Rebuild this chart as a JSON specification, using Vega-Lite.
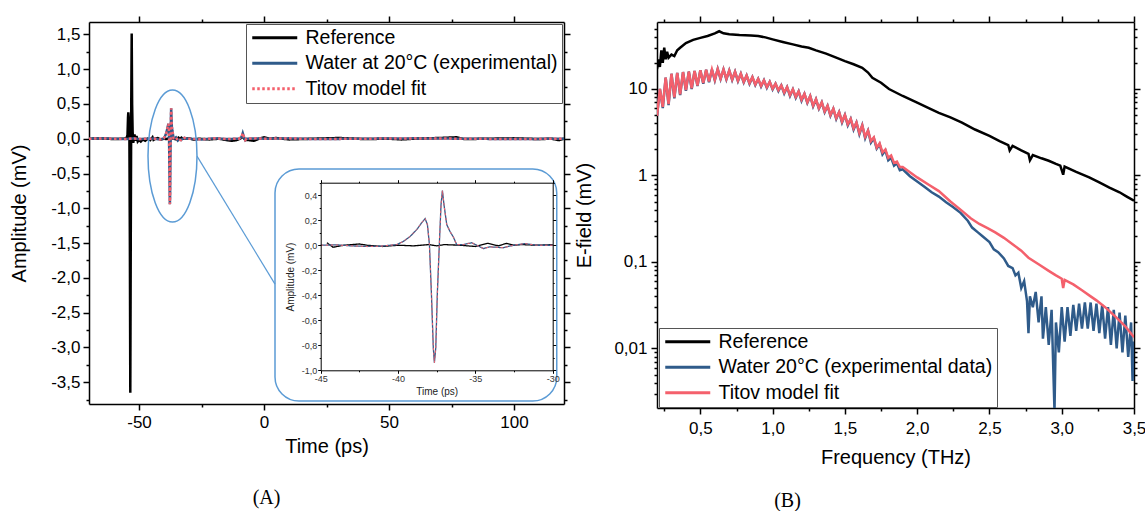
{
  "$schema": "https://vega.github.io/schema/vega-lite/v6.json",
  "background": "white",
  "padding": {"left": 9, "top": 15, "right": 0, "bottom": 0},
  "spacing": 3,
  "resolve": {"scale": {"color": "independent", "strokeDash": "independent"}},
  "config": {
    "font": "Liberation Sans",
    "view": {"stroke": null},
    "locale": {"number": {"decimal": ",", "thousands": ".", "grouping": [3], "currency": ["", " €"], "minus": "-"}},
    "axis": {"grid": false, "domainColor": "#000", "domainWidth": 1.5, "tickColor": "#000", "tickWidth": 1.5, "labelColor": "#000", "titleColor": "#000", "labelFontSize": 17, "titleFontSize": 20, "titleFontWeight": "normal", "labelFont": "Liberation Sans", "titleFont": "Liberation Sans", "labelFlush": false, "labelOverlap": false},
    "legend": {"labelFont": "Liberation Sans", "labelFontSize": 19.5, "labelColor": "#000", "labelLimit": 500, "symbolType": "M -1 0 L 5 0", "symbolStrokeWidth": 3, "symbolSize": 225, "strokeColor": "#555", "fillColor": "#ffffff", "padding": 4, "rowPadding": 4.5, "labelOffset": 36, "cornerRadius": 0}
  },
  "datasets": {
    "tRef": [
      {"t": -70, "a": 0}, {"t": -65, "a": 0.005}, {"t": -60, "a": -0.005}, {"t": -56, "a": 0}, {"t": -55, "a": 0.01},
      {"t": -54.6, "a": 0.05}, {"t": -54.4, "a": 0.3}, {"t": -54.28, "a": 0.38}, {"t": -54.1, "a": 0.3}, {"t": -53.85, "a": 0.1},
      {"t": -53.65, "a": -1.5}, {"t": -53.48, "a": -3.65}, {"t": -53.3, "a": -1.5}, {"t": -53.1, "a": 0.5}, {"t": -52.92, "a": 1.51},
      {"t": -52.75, "a": 0.5}, {"t": -52.55, "a": 0.1}, {"t": -52.3, "a": -0.06}, {"t": -51.8, "a": 0.06}, {"t": -51.4, "a": -0.03},
      {"t": -51.0, "a": 0.04}, {"t": -50.5, "a": -0.04}, {"t": -50, "a": -0.02}, {"t": -49.3, "a": -0.04}, {"t": -48.5, "a": -0.01},
      {"t": -47.5, "a": -0.03}, {"t": -46.5, "a": 0}, {"t": -45.5, "a": -0.02}, {"t": -44.6, "a": 0.02}, {"t": -44.2, "a": -0.016},
      {"t": -43.5, "a": 0}, {"t": -42.5, "a": 0.01}, {"t": -42, "a": 0}, {"t": -41, "a": -0.01}, {"t": -40, "a": 0},
      {"t": -39, "a": -0.005}, {"t": -38, "a": 0.005}, {"t": -37.5, "a": -0.005}, {"t": -37, "a": 0.005}, {"t": -36, "a": 0},
      {"t": -35, "a": -0.01}, {"t": -34.2, "a": 0.015}, {"t": -33.5, "a": -0.005}, {"t": -33, "a": 0.015}, {"t": -32.5, "a": 0},
      {"t": -32, "a": 0.005}, {"t": -31, "a": 0}, {"t": -30, "a": 0.005}, {"t": -28, "a": -0.015}, {"t": -26, "a": 0},
      {"t": -22, "a": -0.01}, {"t": -18, "a": 0}, {"t": -15, "a": -0.02}, {"t": -13, "a": -0.03}, {"t": -11, "a": -0.02},
      {"t": -9.5, "a": 0}, {"t": -8.5, "a": 0.03}, {"t": -7.5, "a": -0.02}, {"t": -6, "a": -0.02}, {"t": -4, "a": -0.03},
      {"t": -2, "a": 0}, {"t": 0, "a": 0.02}, {"t": 2, "a": 0}, {"t": 5, "a": 0.01}, {"t": 10, "a": -0.01},
      {"t": 20, "a": 0}, {"t": 30, "a": 0.01}, {"t": 40, "a": -0.005}, {"t": 50, "a": 0}, {"t": 55, "a": -0.01},
      {"t": 60, "a": 0}, {"t": 70, "a": 0.01}, {"t": 77, "a": 0.02}, {"t": 80, "a": -0.005}, {"t": 90, "a": 0},
      {"t": 100, "a": 0.005}, {"t": 110, "a": -0.005}, {"t": 115, "a": 0}, {"t": 118, "a": -0.02}, {"t": 120, "a": 0}
    ],
    "tWat": [
      {"t": -70, "a": 0}, {"t": -65, "a": 0.005}, {"t": -60, "a": 0}, {"t": -55, "a": -0.005}, {"t": -52, "a": 0.005},
      {"t": -50, "a": -0.005}, {"t": -47, "a": 0}, {"t": -45, "a": 0}, {"t": -44, "a": 0.003}, {"t": -43, "a": -0.005},
      {"t": -42, "a": -0.01}, {"t": -41.16, "a": -0.008}, {"t": -40.09, "a": 0.005}, {"t": -39.66, "a": 0.03}, {"t": -39.22, "a": 0.07},
      {"t": -38.79, "a": 0.125}, {"t": -38.47, "a": 0.18}, {"t": -38.25, "a": 0.213}, {"t": -38.1, "a": 0.165}, {"t": -37.97, "a": 0.005},
      {"t": -37.84, "a": -0.39}, {"t": -37.72, "a": -0.82}, {"t": -37.65, "a": -0.94}, {"t": -37.56, "a": -0.82}, {"t": -37.46, "a": -0.39},
      {"t": -37.33, "a": 0.005}, {"t": -37.22, "a": 0.325}, {"t": -37.13, "a": 0.437}, {"t": -37.03, "a": 0.325}, {"t": -36.85, "a": 0.165},
      {"t": -36.64, "a": 0.11}, {"t": -36.42, "a": 0.065}, {"t": -36.21, "a": 0.005}, {"t": -35.78, "a": 0.005}, {"t": -35.24, "a": 0.02},
      {"t": -34.91, "a": 0}, {"t": -34.48, "a": -0.027}, {"t": -34.05, "a": -0.013}, {"t": -33.19, "a": -0.02}, {"t": -32.54, "a": 0},
      {"t": -31.79, "a": 0.013}, {"t": -31.03, "a": 0}, {"t": -30, "a": 0}, {"t": -25, "a": -0.01}, {"t": -20, "a": 0.005},
      {"t": -15, "a": -0.005}, {"t": -10, "a": 0}, {"t": -9, "a": 0.02}, {"t": -8.5, "a": 0.08}, {"t": -8, "a": 0.02},
      {"t": -7.5, "a": -0.02}, {"t": -7, "a": 0}, {"t": -3, "a": 0.005}, {"t": 0, "a": 0}, {"t": 10, "a": 0.005},
      {"t": 20, "a": -0.005}, {"t": 40, "a": 0}, {"t": 60, "a": 0.005}, {"t": 80, "a": 0}, {"t": 100, "a": -0.005}, {"t": 120, "a": 0}
    ],
    "tTit": [
      {"t": -70, "a": 0}, {"t": -65, "a": 0.004}, {"t": -60, "a": 0}, {"t": -55, "a": -0.004}, {"t": -52, "a": 0.004},
      {"t": -50, "a": -0.004}, {"t": -47, "a": 0}, {"t": -45, "a": 0}, {"t": -44, "a": 0.002}, {"t": -43, "a": -0.005},
      {"t": -42, "a": -0.01}, {"t": -41.16, "a": -0.008}, {"t": -40.09, "a": 0.005}, {"t": -39.66, "a": 0.03}, {"t": -39.22, "a": 0.07},
      {"t": -38.79, "a": 0.125}, {"t": -38.47, "a": 0.18}, {"t": -38.25, "a": 0.213}, {"t": -38.1, "a": 0.165}, {"t": -37.97, "a": 0.005},
      {"t": -37.84, "a": -0.39}, {"t": -37.72, "a": -0.82}, {"t": -37.65, "a": -0.94}, {"t": -37.56, "a": -0.82}, {"t": -37.46, "a": -0.39},
      {"t": -37.33, "a": 0.005}, {"t": -37.22, "a": 0.325}, {"t": -37.13, "a": 0.437}, {"t": -37.03, "a": 0.325}, {"t": -36.85, "a": 0.165},
      {"t": -36.64, "a": 0.11}, {"t": -36.42, "a": 0.065}, {"t": -36.21, "a": 0.005}, {"t": -35.78, "a": 0.005}, {"t": -35.24, "a": 0.02},
      {"t": -34.91, "a": 0}, {"t": -34.48, "a": -0.027}, {"t": -34.05, "a": -0.013}, {"t": -33.19, "a": -0.02}, {"t": -32.54, "a": 0},
      {"t": -31.79, "a": 0.013}, {"t": -31.03, "a": 0}, {"t": -30, "a": 0}, {"t": -25, "a": -0.01}, {"t": -20, "a": 0.005},
      {"t": -15, "a": -0.005}, {"t": -10, "a": 0}, {"t": -9, "a": 0.02}, {"t": -8.5, "a": 0.08}, {"t": -8, "a": 0.02},
      {"t": -7.5, "a": -0.02}, {"t": -7, "a": 0}, {"t": -3, "a": 0.005}, {"t": 0, "a": 0}, {"t": 10, "a": 0.005},
      {"t": 20, "a": -0.005}, {"t": 40, "a": 0}, {"t": 60, "a": 0.005}, {"t": 80, "a": 0}, {"t": 100, "a": -0.005}, {"t": 120, "a": 0}
    ],
    "fRef": [
      {"f": 0.2, "e": 17}, {"f": 0.21, "e": 22}, {"f": 0.22, "e": 18}, {"f": 0.23, "e": 28}, {"f": 0.24, "e": 20},
      {"f": 0.25, "e": 30}, {"f": 0.26, "e": 22}, {"f": 0.27, "e": 27}, {"f": 0.28, "e": 23}, {"f": 0.3, "e": 25},
      {"f": 0.32, "e": 24}, {"f": 0.34, "e": 28}, {"f": 0.36, "e": 30}, {"f": 0.4, "e": 34}, {"f": 0.45, "e": 37},
      {"f": 0.5, "e": 39}, {"f": 0.55, "e": 41}, {"f": 0.6, "e": 44}, {"f": 0.63, "e": 46.5}, {"f": 0.66, "e": 44},
      {"f": 0.7, "e": 43}, {"f": 0.77, "e": 42}, {"f": 0.85, "e": 41.5}, {"f": 0.9, "e": 41}, {"f": 0.95, "e": 39.5},
      {"f": 1.0, "e": 37.5}, {"f": 1.07, "e": 35}, {"f": 1.14, "e": 32.8}, {"f": 1.2, "e": 31}, {"f": 1.25, "e": 30},
      {"f": 1.3, "e": 28}, {"f": 1.37, "e": 25.6}, {"f": 1.44, "e": 23}, {"f": 1.5, "e": 21}, {"f": 1.56, "e": 19.3},
      {"f": 1.62, "e": 17.6}, {"f": 1.66, "e": 15.5}, {"f": 1.69, "e": 13.5}, {"f": 1.75, "e": 11.8}, {"f": 1.805, "e": 10},
      {"f": 1.9, "e": 8.3}, {"f": 2.0, "e": 6.95}, {"f": 2.08, "e": 6.0}, {"f": 2.15, "e": 5.3}, {"f": 2.23, "e": 4.7},
      {"f": 2.31, "e": 4.08}, {"f": 2.4, "e": 3.4}, {"f": 2.5, "e": 2.87}, {"f": 2.57, "e": 2.5}, {"f": 2.63, "e": 2.25},
      {"f": 2.64, "e": 1.95}, {"f": 2.66, "e": 2.2}, {"f": 2.72, "e": 1.95}, {"f": 2.77, "e": 1.78}, {"f": 2.78, "e": 1.5},
      {"f": 2.8, "e": 1.72}, {"f": 2.86, "e": 1.58}, {"f": 2.91, "e": 1.48}, {"f": 2.96, "e": 1.36}, {"f": 2.99, "e": 1.3},
      {"f": 3.01, "e": 1.02}, {"f": 3.02, "e": 1.27}, {"f": 3.1, "e": 1.1}, {"f": 3.19, "e": 0.95}, {"f": 3.26, "e": 0.83},
      {"f": 3.33, "e": 0.725}, {"f": 3.4, "e": 0.64}, {"f": 3.45, "e": 0.57}, {"f": 3.5, "e": 0.51}
    ],
    "fWat": [
      {"f": 0.2, "e": 4.9}, {"f": 0.22, "e": 10.0}, {"f": 0.24, "e": 6.0}, {"f": 0.26, "e": 13.5}, {"f": 0.28, "e": 6.5},
      {"f": 0.3, "e": 15.0}, {"f": 0.32, "e": 7.8}, {"f": 0.34, "e": 15.3}, {"f": 0.36, "e": 8.5}, {"f": 0.38, "e": 15.7},
      {"f": 0.4, "e": 9.5}, {"f": 0.42, "e": 15.9}, {"f": 0.44, "e": 10.0}, {"f": 0.46, "e": 16.2}, {"f": 0.48, "e": 10.8},
      {"f": 0.5, "e": 16.5}, {"f": 0.52, "e": 11.5}, {"f": 0.54, "e": 16.7}, {"f": 0.56, "e": 12.0}, {"f": 0.58, "e": 16.8},
      {"f": 0.6, "e": 12.6}, {"f": 0.62, "e": 17.0}, {"f": 0.64, "e": 13.0}, {"f": 0.66, "e": 16.8}, {"f": 0.68, "e": 12.9},
      {"f": 0.7, "e": 16.4}, {"f": 0.72, "e": 12.7}, {"f": 0.74, "e": 15.8}, {"f": 0.76, "e": 12.3}, {"f": 0.78, "e": 15.0},
      {"f": 0.8, "e": 11.9}, {"f": 0.82, "e": 14.3}, {"f": 0.84, "e": 11.5}, {"f": 0.86, "e": 13.7}, {"f": 0.88, "e": 11.1},
      {"f": 0.9, "e": 13.1}, {"f": 0.92, "e": 10.7}, {"f": 0.94, "e": 12.6}, {"f": 0.96, "e": 10.3}, {"f": 0.98, "e": 12.1},
      {"f": 1.0, "e": 9.9}, {"f": 1.02, "e": 11.5}, {"f": 1.04, "e": 9.5}, {"f": 1.06, "e": 11.0}, {"f": 1.08, "e": 8.9},
      {"f": 1.1, "e": 10.5}, {"f": 1.12, "e": 8.3}, {"f": 1.14, "e": 9.9}, {"f": 1.16, "e": 7.9}, {"f": 1.18, "e": 9.4},
      {"f": 1.2, "e": 7.3}, {"f": 1.22, "e": 8.8}, {"f": 1.24, "e": 6.9}, {"f": 1.26, "e": 8.3}, {"f": 1.28, "e": 6.3},
      {"f": 1.3, "e": 7.6}, {"f": 1.32, "e": 5.9}, {"f": 1.34, "e": 7.0}, {"f": 1.36, "e": 5.4}, {"f": 1.38, "e": 6.4},
      {"f": 1.4, "e": 4.9}, {"f": 1.42, "e": 5.9}, {"f": 1.44, "e": 4.5}, {"f": 1.46, "e": 5.4}, {"f": 1.48, "e": 4.1},
      {"f": 1.5, "e": 5.0}, {"f": 1.52, "e": 3.8}, {"f": 1.54, "e": 4.5}, {"f": 1.56, "e": 3.4}, {"f": 1.58, "e": 4.1},
      {"f": 1.6, "e": 3.0}, {"f": 1.62, "e": 3.8}, {"f": 1.64, "e": 2.7}, {"f": 1.66, "e": 3.3}, {"f": 1.68, "e": 2.4},
      {"f": 1.7, "e": 2.7}, {"f": 1.72, "e": 2.05}, {"f": 1.74, "e": 2.3}, {"f": 1.76, "e": 1.75}, {"f": 1.78, "e": 1.95},
      {"f": 1.8, "e": 1.5}, {"f": 1.82, "e": 1.6}, {"f": 1.84, "e": 1.3}, {"f": 1.86, "e": 1.38}, {"f": 1.88, "e": 1.15},
      {"f": 1.9, "e": 1.18}, {"f": 1.95, "e": 0.98}, {"f": 2.0, "e": 0.85}, {"f": 2.05, "e": 0.74}, {"f": 2.1, "e": 0.64},
      {"f": 2.15, "e": 0.57}, {"f": 2.2, "e": 0.49}, {"f": 2.25, "e": 0.43}, {"f": 2.3, "e": 0.37}, {"f": 2.35, "e": 0.3},
      {"f": 2.38, "e": 0.25}, {"f": 2.42, "e": 0.22}, {"f": 2.45, "e": 0.2}, {"f": 2.5, "e": 0.17}, {"f": 2.53, "e": 0.14},
      {"f": 2.56, "e": 0.13}, {"f": 2.6, "e": 0.11}, {"f": 2.63, "e": 0.09}, {"f": 2.66, "e": 0.085}, {"f": 2.68, "e": 0.07},
      {"f": 2.7, "e": 0.075}, {"f": 2.72, "e": 0.05}, {"f": 2.74, "e": 0.06}, {"f": 2.76, "e": 0.035}, {"f": 2.77, "e": 0.015},
      {"f": 2.78, "e": 0.04}, {"f": 2.8, "e": 0.03}, {"f": 2.82, "e": 0.045}, {"f": 2.84, "e": 0.02}, {"f": 2.86, "e": 0.04},
      {"f": 2.87, "e": 0.013}, {"f": 2.89, "e": 0.03}, {"f": 2.91, "e": 0.011}, {"f": 2.93, "e": 0.028}, {"f": 2.95, "e": 0.0019},
      {"f": 2.96, "e": 0.02}, {"f": 2.98, "e": 0.009}, {"f": 3.0, "e": 0.03}, {"f": 3.02, "e": 0.012}, {"f": 3.04, "e": 0.03},
      {"f": 3.06, "e": 0.014}, {"f": 3.08, "e": 0.032}, {"f": 3.1, "e": 0.016}, {"f": 3.12, "e": 0.033}, {"f": 3.14, "e": 0.017},
      {"f": 3.16, "e": 0.034}, {"f": 3.18, "e": 0.017}, {"f": 3.2, "e": 0.034}, {"f": 3.22, "e": 0.016}, {"f": 3.24, "e": 0.033},
      {"f": 3.26, "e": 0.015}, {"f": 3.28, "e": 0.032}, {"f": 3.3, "e": 0.013}, {"f": 3.32, "e": 0.03}, {"f": 3.34, "e": 0.011},
      {"f": 3.36, "e": 0.028}, {"f": 3.38, "e": 0.01}, {"f": 3.4, "e": 0.026}, {"f": 3.42, "e": 0.009}, {"f": 3.44, "e": 0.024},
      {"f": 3.46, "e": 0.008}, {"f": 3.48, "e": 0.02}, {"f": 3.49, "e": 0.0042}, {"f": 3.5, "e": 0.012}
    ],
    "fTit": [
      {"f": 0.2, "e": 4.9}, {"f": 0.22, "e": 10.0}, {"f": 0.24, "e": 6.2}, {"f": 0.26, "e": 13.5}, {"f": 0.28, "e": 6.7},
      {"f": 0.3, "e": 15.0}, {"f": 0.32, "e": 8.0}, {"f": 0.34, "e": 15.3}, {"f": 0.36, "e": 8.7}, {"f": 0.38, "e": 15.7},
      {"f": 0.4, "e": 9.7}, {"f": 0.42, "e": 15.9}, {"f": 0.44, "e": 10.2}, {"f": 0.46, "e": 16.2}, {"f": 0.48, "e": 11.0},
      {"f": 0.5, "e": 16.5}, {"f": 0.52, "e": 11.7}, {"f": 0.54, "e": 16.7}, {"f": 0.56, "e": 12.2}, {"f": 0.58, "e": 16.8},
      {"f": 0.6, "e": 12.8}, {"f": 0.62, "e": 17.0}, {"f": 0.64, "e": 13.2}, {"f": 0.66, "e": 16.8}, {"f": 0.68, "e": 13.1},
      {"f": 0.7, "e": 16.4}, {"f": 0.72, "e": 12.9}, {"f": 0.74, "e": 15.8}, {"f": 0.76, "e": 12.5}, {"f": 0.78, "e": 15.0},
      {"f": 0.8, "e": 12.1}, {"f": 0.82, "e": 14.3}, {"f": 0.84, "e": 11.7}, {"f": 0.86, "e": 13.7}, {"f": 0.88, "e": 11.3},
      {"f": 0.9, "e": 13.1}, {"f": 0.92, "e": 10.9}, {"f": 0.94, "e": 12.6}, {"f": 0.96, "e": 10.5}, {"f": 0.98, "e": 12.1},
      {"f": 1.0, "e": 10.1}, {"f": 1.02, "e": 11.5}, {"f": 1.04, "e": 9.7}, {"f": 1.06, "e": 11.0}, {"f": 1.08, "e": 9.1},
      {"f": 1.1, "e": 10.5}, {"f": 1.12, "e": 8.5}, {"f": 1.14, "e": 9.9}, {"f": 1.16, "e": 8.1}, {"f": 1.18, "e": 9.4},
      {"f": 1.2, "e": 7.5}, {"f": 1.22, "e": 8.8}, {"f": 1.24, "e": 7.0}, {"f": 1.26, "e": 8.3}, {"f": 1.28, "e": 6.4},
      {"f": 1.3, "e": 7.6}, {"f": 1.32, "e": 6.0}, {"f": 1.34, "e": 7.0}, {"f": 1.36, "e": 5.5}, {"f": 1.38, "e": 6.4},
      {"f": 1.4, "e": 5.0}, {"f": 1.42, "e": 5.9}, {"f": 1.44, "e": 4.6}, {"f": 1.46, "e": 5.4}, {"f": 1.48, "e": 4.2},
      {"f": 1.5, "e": 5.0}, {"f": 1.52, "e": 3.9}, {"f": 1.54, "e": 4.5}, {"f": 1.56, "e": 3.5}, {"f": 1.58, "e": 4.1},
      {"f": 1.6, "e": 3.1}, {"f": 1.62, "e": 3.8}, {"f": 1.64, "e": 2.8}, {"f": 1.66, "e": 3.3}, {"f": 1.68, "e": 2.5},
      {"f": 1.7, "e": 2.75}, {"f": 1.72, "e": 2.1}, {"f": 1.74, "e": 2.35}, {"f": 1.76, "e": 1.85}, {"f": 1.78, "e": 2.0},
      {"f": 1.8, "e": 1.6}, {"f": 1.82, "e": 1.7}, {"f": 1.84, "e": 1.4}, {"f": 1.86, "e": 1.45}, {"f": 1.88, "e": 1.25},
      {"f": 1.9, "e": 1.25}, {"f": 2.0, "e": 0.95}, {"f": 2.08, "e": 0.78}, {"f": 2.15, "e": 0.66}, {"f": 2.23, "e": 0.5},
      {"f": 2.31, "e": 0.39}, {"f": 2.37, "e": 0.32}, {"f": 2.43, "e": 0.275}, {"f": 2.49, "e": 0.245}, {"f": 2.54, "e": 0.22},
      {"f": 2.6, "e": 0.19}, {"f": 2.66, "e": 0.16}, {"f": 2.72, "e": 0.135}, {"f": 2.77, "e": 0.112}, {"f": 2.84, "e": 0.094},
      {"f": 2.91, "e": 0.079}, {"f": 2.96, "e": 0.07}, {"f": 3.0, "e": 0.064}, {"f": 3.01, "e": 0.05}, {"f": 3.02, "e": 0.062},
      {"f": 3.08, "e": 0.055}, {"f": 3.14, "e": 0.047}, {"f": 3.2, "e": 0.04}, {"f": 3.24, "e": 0.036}, {"f": 3.3, "e": 0.03},
      {"f": 3.375, "e": 0.023}, {"f": 3.44, "e": 0.018}, {"f": 3.5, "e": 0.0135}
    ]
  },
  "hconcat": [
    {
      "width": 475,
      "height": 382,
      "title": {"text": "(A)", "orient": "bottom", "anchor": "middle", "dx": -60, "offset": 32, "font": "Liberation Serif", "fontSize": 20, "fontWeight": "normal", "color": "#000"},
      "resolve": {"scale": {"x": "independent", "y": "independent"}},
      "layer": [
        {
          "data": {"values": [{"t": 4.4, "t2": 117.1, "a": -0.435, "a2": -3.77}]},
          "mark": {"type": "rect", "cornerRadius": 24, "fill": "#ffffff", "stroke": "#5b9bd5", "strokeWidth": 1.5},
          "encoding": {
            "x": {"field": "t", "type": "quantitative", "scale": {"domain": [-70, 120], "nice": false, "zero": false}, "axis": null},
            "x2": {"field": "t2"},
            "y": {"field": "a", "type": "quantitative", "scale": {"domain": [-3.812, 1.677], "nice": false, "zero": false}, "axis": null},
            "y2": {"field": "a2"}
          }
        },
        {
          "data": {"values": [{"t": -26.8, "a": -0.25, "t2": 4.4, "a2": -2.09}]},
          "mark": {"type": "rule", "color": "#5b9bd5", "strokeWidth": 1.2},
          "encoding": {
            "x": {"field": "t", "type": "quantitative", "scale": {"domain": [-70, 120], "nice": false, "zero": false}, "axis": null},
            "x2": {"field": "t2"},
            "y": {"field": "a", "type": "quantitative", "scale": {"domain": [-3.812, 1.677], "nice": false, "zero": false}, "axis": null},
            "y2": {"field": "a2"}
          }
        },
        {
          "data": {"name": "tRef"},
          "mark": {"type": "line", "strokeWidth": 2.5},
          "encoding": {
            "x": {"field": "t", "type": "quantitative", "scale": {"domain": [-70, 120], "nice": false, "zero": false},
              "axis": {"orient": "bottom", "title": "Time (ps)", "values": [-50, -25, 0, 25, 50, 75, 100], "format": "d",
                "labelExpr": "datum.value % 50 === 0 ? datum.label : ''",
                "tickSize": {"condition": {"test": "datum.value % 50 === 0", "value": 6}, "value": 3},
                "labelPadding": 4, "titlePadding": 6}},
            "y": {"field": "a", "type": "quantitative", "scale": {"domain": [-3.812, 1.677], "nice": false, "zero": false},
              "axis": {"orient": "left", "title": "Amplitude (mV)", "format": ".1f",
                "values": [-3.75, -3.5, -3.25, -3, -2.75, -2.5, -2.25, -2, -1.75, -1.5, -1.25, -1, -0.75, -0.5, -0.25, 0, 0.25, 0.5, 0.75, 1, 1.25, 1.5],
                "labelExpr": "datum.value % 0.5 === 0 ? datum.label : ''",
                "tickSize": {"condition": {"test": "datum.value % 0.5 === 0", "value": 6}, "value": 3},
                "labelPadding": 3, "titlePadding": 21}},
            "color": {"datum": "Reference", "type": "nominal",
              "scale": {"domain": ["Reference", "Water at 20°C (experimental)", "Titov model fit"], "range": ["#000000", "#2f5b8a", "#f4606c"]},
              "legend": {"orient": "none", "legendX": 157, "legendY": 2, "title": null}},
            "strokeDash": {"datum": "Reference", "type": "nominal",
              "scale": {"domain": ["Reference", "Water at 20°C (experimental)", "Titov model fit"], "range": [[1, 0], [1, 0], [2.5, 2.5]]},
              "legend": {"orient": "none", "legendX": 157, "legendY": 2, "title": null}}
          }
        },
        {
          "data": {"name": "tWat"},
          "mark": {"type": "line", "strokeWidth": 2.5},
          "encoding": {
            "x": {"field": "t", "type": "quantitative", "scale": {"domain": [-70, 120], "nice": false, "zero": false}, "axis": null},
            "y": {"field": "a", "type": "quantitative", "scale": {"domain": [-3.812, 1.677], "nice": false, "zero": false}, "axis": null},
            "color": {"datum": "Water at 20°C (experimental)", "type": "nominal"},
            "strokeDash": {"datum": "Water at 20°C (experimental)", "type": "nominal"}
          }
        },
        {
          "data": {"name": "tTit"},
          "mark": {"type": "line", "strokeWidth": 2.5},
          "encoding": {
            "x": {"field": "t", "type": "quantitative", "scale": {"domain": [-70, 120], "nice": false, "zero": false}, "axis": null},
            "y": {"field": "a", "type": "quantitative", "scale": {"domain": [-3.812, 1.677], "nice": false, "zero": false}, "axis": null},
            "color": {"datum": "Titov model fit", "type": "nominal"},
            "strokeDash": {"datum": "Titov model fit", "type": "nominal"}
          }
        },
        {
          "data": {"values": [{"t": -36.6, "a": -0.25}]},
          "mark": {"type": "point", "shape": "M -0.3712 0 A 0.3712 1 0 1 0 0.3712 0 A 0.3712 1 0 1 0 -0.3712 0 Z", "size": 17424, "filled": false, "stroke": "#5b9bd5", "strokeWidth": 1.5, "opacity": 1},
          "encoding": {
            "x": {"field": "t", "type": "quantitative", "scale": {"domain": [-70, 120], "nice": false, "zero": false}, "axis": null},
            "y": {"field": "a", "type": "quantitative", "scale": {"domain": [-3.812, 1.677], "nice": false, "zero": false}, "axis": null}
          }
        },
        {
          "data": {"values": [{"t": 0, "a": 0}]},
          "mark": {"type": "point", "opacity": 0},
          "encoding": {
            "x": {"field": "t", "type": "quantitative", "scale": {"domain": [-70, 120], "nice": false, "zero": false},
              "axis": {"orient": "top", "title": null, "labels": false, "values": [-50, -25, 0, 25, 50, 75, 100],
                "tickSize": {"condition": {"test": "datum.value % 50 === 0", "value": 6}, "value": 3}}},
            "y": {"field": "a", "type": "quantitative", "scale": {"domain": [-3.812, 1.677], "nice": false, "zero": false},
              "axis": {"orient": "right", "title": null, "labels": false,
                "values": [-3.75, -3.5, -3.25, -3, -2.75, -2.5, -2.25, -2, -1.75, -1.5, -1.25, -1, -0.75, -0.5, -0.25, 0, 0.25, 0.5, 0.75, 1, 1.25, 1.5],
                "tickSize": {"condition": {"test": "datum.value % 0.5 === 0", "value": 6}, "value": 3}}}
          }
        },
        {
          "data": {"name": "tRef"},
          "transform": [{"filter": "datum.t >= -45 && datum.t <= -30"}],
          "mark": {"type": "line", "strokeWidth": 1.3},
          "encoding": {
            "x": {"field": "t", "type": "quantitative", "scale": {"domain": [-45, -30], "range": [231.7, 463.7], "nice": false, "zero": false},
              "axis": {"orient": "bottom", "offset": -33.7, "zindex": 2, "title": "Time (ps)", "values": [-45, -42.5, -40, -37.5, -35, -32.5, -30], "format": "d",
                "labelExpr": "datum.value % 5 === 0 ? datum.label : ''",
                "tickSize": {"condition": {"test": "datum.value % 5 === 0", "value": 3}, "value": 1.5},
                "domainWidth": 1, "tickWidth": 1, "labelFontSize": 9, "titleFontSize": 10, "labelPadding": 1, "titlePadding": 3, "labelColor": "#333", "titleColor": "#222"}},
            "y": {"field": "a", "type": "quantitative", "scale": {"domain": [-1, 0.5], "range": [348.3, 160.7], "nice": false, "zero": false},
              "axis": {"orient": "left", "offset": -231.7, "zindex": 2, "title": "Amplitude (mV)", "format": ".1f",
                "values": [-1, -0.9, -0.8, -0.7, -0.6, -0.5, -0.4, -0.3, -0.2, -0.1, 0, 0.1, 0.2, 0.3, 0.4, 0.5],
                "labelExpr": "abs(datum.value * 5 - round(datum.value * 5)) < 0.001 ? datum.label : ''",
                "tickSize": {"condition": {"test": "abs(datum.value * 5 - round(datum.value * 5)) < 0.001", "value": 3}, "value": 1.5},
                "domainWidth": 1, "tickWidth": 1, "labelFontSize": 9, "titleFontSize": 10, "labelPadding": 1, "titlePadding": 6, "labelColor": "#333", "titleColor": "#222"}},
            "color": {"datum": "Reference", "type": "nominal"},
            "strokeDash": {"datum": "Reference", "type": "nominal"}
          }
        },
        {
          "data": {"name": "tWat"},
          "transform": [{"filter": "datum.t >= -45 && datum.t <= -30"}],
          "mark": {"type": "line", "strokeWidth": 1.3},
          "encoding": {
            "x": {"field": "t", "type": "quantitative", "scale": {"domain": [-45, -30], "range": [231.7, 463.7], "nice": false, "zero": false}, "axis": null},
            "y": {"field": "a", "type": "quantitative", "scale": {"domain": [-1, 0.5], "range": [348.3, 160.7], "nice": false, "zero": false}, "axis": null},
            "color": {"datum": "Water at 20°C (experimental)", "type": "nominal"},
            "strokeDash": {"datum": "Water at 20°C (experimental)", "type": "nominal"}
          }
        },
        {
          "data": {"name": "tTit"},
          "transform": [{"filter": "datum.t >= -45 && datum.t <= -30"}],
          "mark": {"type": "line", "strokeWidth": 1},
          "encoding": {
            "x": {"field": "t", "type": "quantitative", "scale": {"domain": [-45, -30], "range": [231.7, 463.7], "nice": false, "zero": false}, "axis": null},
            "y": {"field": "a", "type": "quantitative", "scale": {"domain": [-1, 0.5], "range": [348.3, 160.7], "nice": false, "zero": false}, "axis": null},
            "color": {"datum": "Titov model fit", "type": "nominal"},
            "strokeDash": {"datum": "Titov model fit", "type": "nominal"}
          }
        },
        {
          "data": {"values": [{"t": -40, "a": 0}]},
          "mark": {"type": "point", "opacity": 0},
          "encoding": {
            "x": {"field": "t", "type": "quantitative", "scale": {"domain": [-45, -30], "range": [231.7, 463.7], "nice": false, "zero": false},
              "axis": {"orient": "top", "offset": -160.7, "zindex": 2, "title": null, "labels": false, "values": [-45, -42.5, -40, -37.5, -35, -32.5, -30],
                "tickSize": {"condition": {"test": "datum.value % 5 === 0", "value": 3}, "value": 1.5}, "domainWidth": 1, "tickWidth": 1}},
            "y": {"field": "a", "type": "quantitative", "scale": {"domain": [-1, 0.5], "range": [348.3, 160.7], "nice": false, "zero": false},
              "axis": {"orient": "right", "offset": -11.3, "zindex": 2, "title": null, "labels": false,
                "values": [-1, -0.9, -0.8, -0.7, -0.6, -0.5, -0.4, -0.3, -0.2, -0.1, 0, 0.1, 0.2, 0.3, 0.4, 0.5],
                "tickSize": {"condition": {"test": "abs(datum.value * 5 - round(datum.value * 5)) < 0.001", "value": 3}, "value": 1.5}, "domainWidth": 1, "tickWidth": 1}}
          }
        }
      ]
    },
    {
      "width": 477,
      "height": 386,
      "title": {"text": "(B)", "orient": "bottom", "anchor": "middle", "dx": -108, "offset": 24, "font": "Liberation Serif", "fontSize": 20, "fontWeight": "normal", "color": "#000"},
      "resolve": {"axis": {"x": "independent", "y": "independent"}},
      "layer": [
        {
          "data": {"name": "fRef"},
          "mark": {"type": "line", "strokeWidth": 2.5, "clip": true},
          "encoding": {
            "x": {"field": "f", "type": "quantitative", "scale": {"domain": [0.2, 3.5], "nice": false, "zero": false},
              "axis": {"orient": "bottom", "title": "Frequency (THz)", "format": ".1f",
                "values": [0.25, 0.5, 0.75, 1, 1.25, 1.5, 1.75, 2, 2.25, 2.5, 2.75, 3, 3.25, 3.5],
                "labelExpr": "datum.value % 0.5 === 0 ? datum.label : ''",
                "tickSize": {"condition": {"test": "datum.value % 0.5 === 0", "value": 6}, "value": 3},
                "labelPadding": 6, "titlePadding": 11}},
            "y": {"field": "e", "type": "quantitative", "scale": {"type": "log", "domain": [0.00205, 59.5], "nice": false},
              "axis": {"orient": "left", "title": "E-field (mV)", "format": "~g",
                "values": [0.003, 0.004, 0.005, 0.006, 0.007, 0.008, 0.009, 0.01, 0.02, 0.03, 0.04, 0.05, 0.06, 0.07, 0.08, 0.09, 0.1, 0.2, 0.3, 0.4, 0.5, 0.6, 0.7, 0.8, 0.9, 1, 2, 3, 4, 5, 6, 7, 8, 9, 10, 20, 30, 40, 50],
                "labelExpr": "abs(log(datum.value) / LN10 - round(log(datum.value) / LN10)) < 0.001 ? datum.label : ''",
                "tickSize": {"condition": {"test": "abs(log(datum.value) / LN10 - round(log(datum.value) / LN10)) < 0.001", "value": 6}, "value": 3},
                "labelPadding": 4, "titlePadding": 19}},
            "color": {"datum": "Reference", "type": "nominal",
              "scale": {"domain": ["Reference", "Water 20°C (experimental data)", "Titov model fit"], "range": ["#000000", "#2f5b8a", "#f4606c"]},
              "legend": {"orient": "none", "legendX": 2, "legendY": 306, "title": null}}
          }
        },
        {
          "data": {"name": "fWat"},
          "mark": {"type": "line", "strokeWidth": 2.5, "clip": true},
          "encoding": {
            "x": {"field": "f", "type": "quantitative", "axis": null},
            "y": {"field": "e", "type": "quantitative", "axis": null},
            "color": {"datum": "Water 20°C (experimental data)", "type": "nominal"}
          }
        },
        {
          "data": {"name": "fTit"},
          "mark": {"type": "line", "strokeWidth": 2.5, "clip": true},
          "encoding": {
            "x": {"field": "f", "type": "quantitative", "axis": null},
            "y": {"field": "e", "type": "quantitative", "axis": null},
            "color": {"datum": "Titov model fit", "type": "nominal"}
          }
        },
        {
          "data": {"values": [{"f": 1, "e": 1}]},
          "mark": {"type": "point", "opacity": 0},
          "encoding": {
            "x": {"field": "f", "type": "quantitative",
              "axis": {"orient": "top", "title": null, "labels": false,
                "values": [0.25, 0.5, 0.75, 1, 1.25, 1.5, 1.75, 2, 2.25, 2.5, 2.75, 3, 3.25, 3.5],
                "tickSize": {"condition": {"test": "datum.value % 0.5 === 0", "value": 6}, "value": 3}}},
            "y": {"field": "e", "type": "quantitative",
              "axis": {"orient": "right", "title": null, "labels": false,
                "values": [0.003, 0.004, 0.005, 0.006, 0.007, 0.008, 0.009, 0.01, 0.02, 0.03, 0.04, 0.05, 0.06, 0.07, 0.08, 0.09, 0.1, 0.2, 0.3, 0.4, 0.5, 0.6, 0.7, 0.8, 0.9, 1, 2, 3, 4, 5, 6, 7, 8, 9, 10, 20, 30, 40, 50],
                "tickSize": {"condition": {"test": "abs(log(datum.value) / LN10 - round(log(datum.value) / LN10)) < 0.001", "value": 6}, "value": 3}}}
          }
        }
      ]
    }
  ]
}
